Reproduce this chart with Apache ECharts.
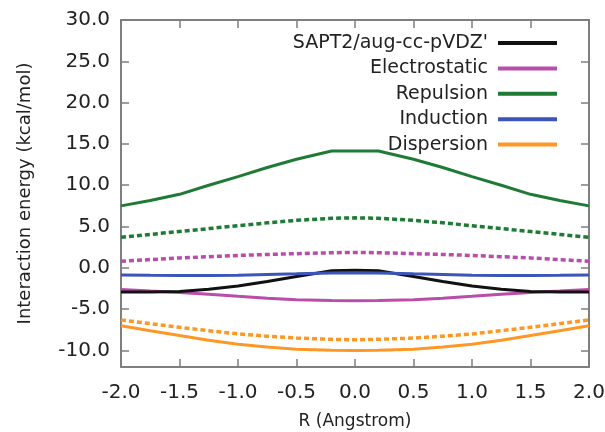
<!DOCTYPE html>
<html>
<head>
<meta charset="utf-8">
<script src="https://cdn.jsdelivr.net/npm/echarts@6/dist/echarts.min.js"></script>
<style>
  html, body { margin: 0; padding: 0; background: #fff; }
  #chart { width: 605px; height: 432px; }
</style>
</head>
<body>
<div id="chart"></div>
<script>
// separation R (Angstrom)
const rValues = [-2.0, -1.75, -1.5, -1.25, -1.0, -0.75, -0.5, -0.2, 0.0, 0.2, 0.5, 0.75, 1.0, 1.25, 1.5, 1.75, 2.0];

// energies in kcal/mol
const total = [-2.93, -2.92, -2.85, -2.6, -2.2, -1.65, -1.05, -0.35, -0.3, -0.35, -1.05, -1.65, -2.2, -2.6, -2.85, -2.92, -2.93];
const elst = [-2.62, -2.8, -2.97, -3.2, -3.45, -3.68, -3.86, -3.96, -3.98, -3.96, -3.86, -3.68, -3.45, -3.2, -2.97, -2.8, -2.62];
const elstDashed = [0.8, 1.0, 1.2, 1.35, 1.5, 1.62, 1.72, 1.83, 1.87, 1.83, 1.72, 1.62, 1.5, 1.35, 1.2, 1.0, 0.8];
const repulsion = [7.5, 8.15, 8.9, 10.0, 11.05, 12.15, 13.15, 14.15, 14.15, 14.15, 13.15, 12.15, 11.05, 10.0, 8.9, 8.15, 7.5];
const repulsionDashed = [3.7, 4.05, 4.4, 4.75, 5.1, 5.45, 5.75, 6.0, 6.05, 6.0, 5.75, 5.45, 5.1, 4.75, 4.4, 4.05, 3.7];
const induction = [-0.85, -0.9, -0.92, -0.92, -0.88, -0.8, -0.72, -0.62, -0.6, -0.62, -0.72, -0.8, -0.88, -0.92, -0.92, -0.9, -0.85];
const dispersion = [-7.0, -7.62, -8.2, -8.75, -9.25, -9.58, -9.84, -9.97, -10.0, -9.97, -9.84, -9.58, -9.25, -8.75, -8.2, -7.62, -7.0];
const dispersionDashed = [-6.3, -6.75, -7.2, -7.6, -8.0, -8.27, -8.5, -8.65, -8.7, -8.65, -8.5, -8.27, -8.0, -7.6, -7.2, -6.75, -6.3];

const legendNames = ['SAPT2/aug-cc-pVDZ\'', 'Electrostatic', 'Repulsion', 'Induction', 'Dispersion'];
const yTicks = [-10, -5, 0, 5, 10, 15, 20, 25, 30];

const FONT = 'DejaVu Sans';
const AXIS_COLOR = '#7f7f7f';

function pairs(ys) {
  return rValues.map((x, i) => [x, ys[i]]);
}

function makeSerie(name, ys, color, dashed) {
  return {
    name: name,
    type: 'line',
    data: pairs(ys),
    showSymbol: false,
    symbol: 'none',
    silent: true,
    lineStyle: {
      color: color,
      width: dashed ? 3.5 : 3,
      type: dashed ? [5, 3] : 'solid'
    },
    itemStyle: { color: color }
  };
}

const chart = echarts.init(document.getElementById('chart'), null, { renderer: 'canvas' });

const tickStyle = { show: true, inside: true, length: 8, lineStyle: { color: AXIS_COLOR, width: 1.5 } };
const axisLineStyle = { show: true, onZero: false, lineStyle: { color: AXIS_COLOR, width: 2 } };

chart.setOption({
  animation: false,
  backgroundColor: '#fff',
  grid: { left: 121, right: 16, top: 20, bottom: 65, containLabel: false, outerBoundsMode: 'none' },
  legend: {
    data: legendNames,
    orient: 'vertical',
    align: 'right',
    right: 43,
    top: 28,
    icon: 'rect',
    itemWidth: 59,
    itemHeight: 4,
    itemGap: 5.4,
    selectedMode: false,
    textStyle: { fontFamily: FONT, fontSize: 19, color: '#222', lineHeight: 20, padding: [0, 5, 0, 0] }
  },
  xAxis: [{
    type: 'value',
    min: -2,
    max: 2,
    interval: 0.5,
    name: 'R (Angstrom)',
    nameLocation: 'middle',
    nameGap: 46,
    nameTextStyle: { fontFamily: FONT, fontSize: 17, color: '#222' },
    axisLine: axisLineStyle,
    axisTick: tickStyle,
    splitLine: { show: false },
    axisLabel: {
      fontFamily: FONT, fontSize: 20, color: '#222', margin: 16,
      formatter: v => v.toFixed(1)
    }
  }, {
    type: 'value',
    position: 'top',
    min: -2,
    max: 2,
    interval: 0.5,
    axisLine: axisLineStyle,
    axisTick: tickStyle,
    axisLabel: { show: false },
    splitLine: { show: false }
  }],
  yAxis: [{
    type: 'value',
    min: -12,
    max: 30,
    name: 'Interaction energy (kcal/mol)',
    nameLocation: 'middle',
    nameRotate: 90,
    nameGap: 87,
    nameTextStyle: { fontFamily: FONT, fontSize: 18, color: '#222' },
    axisLine: axisLineStyle,
    axisTick: Object.assign({ customValues: yTicks }, tickStyle),
    splitLine: { show: false },
    axisLabel: {
      customValues: yTicks,
      fontFamily: FONT, fontSize: 20, color: '#222', margin: 11,
      formatter: v => v.toFixed(1)
    }
  }, {
    type: 'value',
    position: 'right',
    min: -12,
    max: 30,
    axisLine: axisLineStyle,
    axisTick: Object.assign({ customValues: yTicks }, tickStyle),
    axisLabel: { show: false },
    splitLine: { show: false }
  }],
  series: [
    makeSerie('Repulsion', repulsion, '#1f7a36', false),
    makeSerie('Repulsion (dashed)', repulsionDashed, '#1f7a36', true),
    makeSerie('Electrostatic (dashed)', elstDashed, '#b84daa', true),
    makeSerie('Electrostatic', elst, '#b84daa', false),
    makeSerie('Dispersion (dashed)', dispersionDashed, '#fd9826', true),
    makeSerie('Dispersion', dispersion, '#fd9826', false),
    makeSerie('SAPT2/aug-cc-pVDZ\'', total, '#111111', false),
    makeSerie('Induction', induction, '#3d55b8', false)
  ]
});
</script>
</body>
</html>
